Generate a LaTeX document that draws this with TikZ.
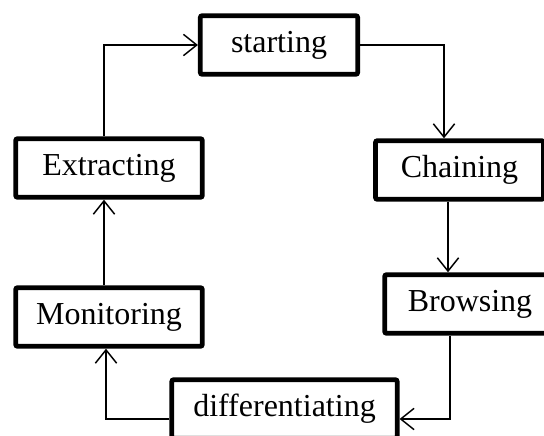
\documentclass[tikz,border=0pt]{standalone}
\usepackage{fontspec}
\setmainfont{Liberation Serif}
\usetikzlibrary{arrows.meta,positioning,calc}
\tikzset{
  stage/.style={draw=black,line width=3.6pt,rounded corners=1.5pt,inner sep=0pt,minimum height=44pt,align=center,font=\fontsize{24}{28}\selectfont},
  flow/.style={-{Straight Barb[length=10pt,width=16pt]},line width=1.1pt,draw=black}
}
\begin{document}
\begin{tikzpicture}[x=0.75pt,y=-0.75pt]
    \useasboundingbox (0,0) rectangle (544,436);
    \node[stage,minimum width=118pt] (starting) at (279,45) {starting};
    \node[stage,minimum width=140pt] (extracting) at (109,168) {Extracting};
    \node[stage,minimum width=126pt] (chaining) at (459.5,170) {Chaining};
    \node[stage,minimum width=140pt] (monitoring) at (109,317) {Monitoring};
    \node[stage,minimum width=128pt] (browsing) at (470,304) {Browsing};
    \node[stage,minimum width=169pt] (differentiating) at (284.5,409) {differentiating};

    % turning points of the loop
    \coordinate (xleft) at (104,0);
    \coordinate (xdown) at (444,0);
    \coordinate (xmid) at (448,0);
    \coordinate (xlow) at (450,0);
    \coordinate (xmon) at (106,0);
    \coordinate (ydiff) at (0,419);

    \draw[flow] (extracting.north -| xleft) |- (starting.west);
    \draw[flow] (starting.east) -| (chaining.north -| xdown);
    \draw[flow] (chaining.south -| xmid) -- (browsing.north -| xmid);
    \draw[flow] (browsing.south -| xlow) |- (differentiating.east |- ydiff);
    \draw[flow] (differentiating.west |- ydiff) -| (monitoring.south -| xmon);
    \draw[flow] (monitoring.north -| xleft) -- (extracting.south -| xleft);
\end{tikzpicture}
\end{document}
